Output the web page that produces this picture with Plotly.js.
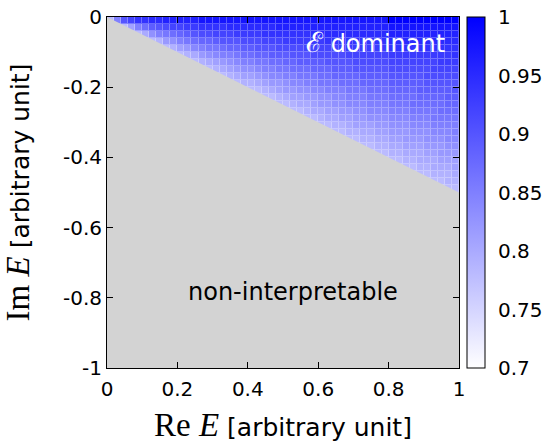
<!DOCTYPE html>
<html>
<head>
<meta charset="utf-8">
<script src="https://cdn.plot.ly/plotly-3.0.1.min.js"></script>
<style>html,body{margin:0;padding:0;background:#fff;}</style>
</head>
<body>
<div id="chart" style="width:547px;height:443px;"></div>
<script>
// Ratio -Im/Re at which each profile value is read (step 0.025 from 0 to 0.5)
const ratioSteps = [0,0.025,0.05,0.075,0.1,0.125,0.15,0.175,0.2,0.225,0.25,0.275,0.3,0.325,0.35,0.375,0.4,0.425,0.45,0.475,0.5];
// Dominance value read along that ratio
const profileValues = [1.0,0.975,0.96,0.95,0.94,0.93,0.92,0.91,0.90,0.89,0.88,0.87,0.86,0.85,0.84,0.83,0.82,0.81,0.80,0.79,0.78];
// Boundary of interpretable region (Im = -Re/2) and the non-interpretable polygon
const boundaryRe = [0, 1, 1, 0, 0];
const boundaryIm = [0, -0.5, -1, -1, 0];
const gridN = 50;
const xTickVals = [0,0.2,0.4,0.6,0.8,1];
const xTickText = ["0","0.2","0.4","0.6","0.8","1"];
const yTickVals = [-1,-0.8,-0.6,-0.4,-0.2,0];
const yTickText = ["-1","-0.8","-0.6","-0.4","-0.2","0"];
const cbTickVals = [0.7,0.75,0.8,0.85,0.9,0.95,1];
const cbTickText = ["0.7","0.75","0.8","0.85","0.9","0.95","1"];
const zMin = 0.7, zMax = 1;

const xs = [], ys = [], z = [];
for (let i = 0; i < gridN; i++) { xs.push((i + 0.5) / gridN); ys.push(-(i + 0.5) / gridN); }
for (let j = 0; j < gridN; j++) {
  const row = [];
  for (let i = 0; i < gridN; i++) {
    const r = -ys[j] / xs[i];
    let k = Math.round(r / 0.025);
    if (k > ratioSteps.length - 1) k = ratioSteps.length - 1;
    row.push(profileValues[k]);
  }
  z.push(row);
}

const sans = "DejaVu Sans, Liberation Sans, Arial, sans-serif";
const plotW = 352;
const cbX = 1.0227, cbThick = 18, cbTick = 5;
const cbRight = cbX + cbThick / plotW;

// inside tick dashes on both edges of the colour bar
const shapes = [];
cbTickVals.forEach(v => {
  const yy = (v - zMin) / (zMax - zMin);
  if (v === zMin || v === zMax) return;
  shapes.push({type: 'line', xref: 'paper', yref: 'paper', x0: cbX, x1: cbX + cbTick / plotW, y0: yy, y1: yy, line: {color: '#000', width: 1}});
  shapes.push({type: 'line', xref: 'paper', yref: 'paper', x0: cbRight - cbTick / plotW, x1: cbRight, y0: yy, y1: yy, line: {color: '#000', width: 1}});
});

const traces = [
  { // lighter underlay that shows through the cell gaps
    type: 'heatmap', x: xs, y: ys, z: z, zmin: zMin, zmax: zMax,
    colorscale: [[0, '#ffffff'], [1, '#4848ff']], showscale: false, hoverinfo: 'skip'
  },
  {
    type: 'heatmap', x: xs, y: ys, z: z, xgap: 1, ygap: 1,
    zmin: zMin, zmax: zMax,
    colorscale: [[0, '#ffffff'], [1, '#0000ff']],
    hoverinfo: 'skip',
    colorbar: {
      x: cbX, xanchor: 'left', xpad: 0,
      y: 0.5, yanchor: 'middle', len: 1, lenmode: 'fraction', ypad: 0,
      thickness: cbThick, outlinewidth: 1, outlinecolor: '#000',
      ticks: 'outside', ticklen: 9, tickcolor: 'rgba(0,0,0,0)',
      tickvals: cbTickVals, ticktext: cbTickText,
      tickfont: {family: sans, size: 20, color: '#000'}
    }
  },
  {
    type: 'scatter', mode: 'lines', x: boundaryRe, y: boundaryIm,
    fill: 'toself', fillcolor: '#d3d3d3', line: {width: 0, color: '#d3d3d3'},
    hoverinfo: 'skip', showlegend: false
  }
];

const layout = {
  width: 547, height: 443,
  margin: {l: 107, r: 88, t: 17, b: 75, pad: 0, autoexpand: false},
  paper_bgcolor: '#fff', plot_bgcolor: '#d3d3d3',
  showlegend: false,
  font: {family: sans, color: '#000'},
  shapes: shapes,
  xaxis: {
    range: [0, 1], tickvals: xTickVals, ticktext: xTickText, automargin: false,
    ticks: 'inside', ticklen: 6, tickcolor: '#000', mirror: 'ticks',
    showline: true, linecolor: '#000', linewidth: 1, showgrid: false, zeroline: false,
    tickfont: {family: sans, size: 20}, ticklabelstandoff: 3,
    title: {text: '<span style="font-family:Liberation Serif;font-size:33px">Re <i>E</i></span> [arbitrary unit]',
            font: {family: sans, size: 25}, standoff: 18}
  },
  yaxis: {
    range: [-1, 0], tickvals: yTickVals, ticktext: yTickText, automargin: false,
    ticks: 'inside', ticklen: 6, tickcolor: '#000', mirror: 'ticks',
    showline: true, linecolor: '#000', linewidth: 1, showgrid: false, zeroline: false,
    tickfont: {family: sans, size: 20},
    title: {text: '<span style="font-family:Liberation Serif;font-size:33px">Im <i>E</i></span> [arbitrary unit]',
            font: {family: sans, size: 25}, standoff: 28}
  },
  annotations: [
    {x: 0.966, y: -0.074, xref: 'x', yref: 'y', xanchor: 'right', yanchor: 'middle', showarrow: false,
     text: '<span style="font-family:DejaVu Serif;font-size:28px">ℰ</span> dominant', font: {family: sans, size: 24, color: '#fff'}},
    {x: 0.528, y: -0.783, xref: 'x', yref: 'y', xanchor: 'center', yanchor: 'middle', showarrow: false,
     text: 'non-interpretable', font: {family: sans, size: 24, color: '#000'}}
  ]
};

Plotly.newPlot('chart', traces, layout, {displayModeBar: false, staticPlot: true});
</script>
</body>
</html>
